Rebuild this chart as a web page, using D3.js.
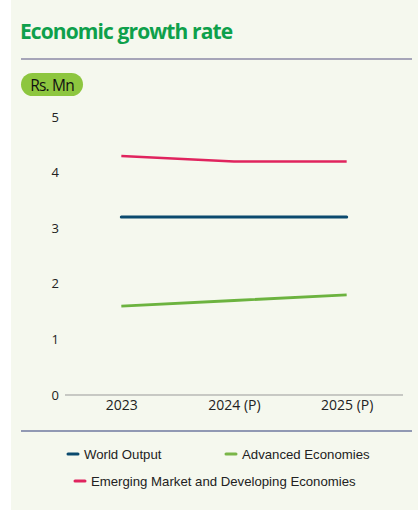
<!DOCTYPE html>
<html>
<head>
<meta charset="UTF-8">
<title>Economic growth rate</title>
<style>
  body { margin: 0; background: #fff; }
  .grid-line { stroke: #999; }
</style>
</head>
<body>
<div class="drawing"></div>
<script src="https://cdn.jsdelivr.net/npm/d3@7"></script>
<script>
var years = ["2023", "2024 (P)", "2025 (P)"];
var worldOutput = [3.2, 3.2, 3.2];
var advancedEconomies = [1.6, 1.7, 1.8];
var emergingEconomies = [4.3, 4.2, 4.2];
var yTicks = [0, 1, 2, 3, 4, 5];

var w = 418, h = 511;

var svg = d3.select("div.drawing").append("svg")
  .attr("width", w).attr("height", h);

// panel background
svg.append("rect").attr("x", 11).attr("y", 0)
  .attr("width", w - 11).attr("height", 510).attr("fill", "#f5f8ee");

svg.append("text").attr("x", 20).attr("y", 39)
  .attr("font-family", "Open Sans").attr("font-weight", "bold")
  .attr("font-size", 21).attr("letter-spacing", -0.9)
  .attr("fill", "#0ea04b").text("Economic growth rate");

svg.append("line").attr("x1", 21).attr("x2", 412).attr("y1", 59).attr("y2", 59)
  .attr("stroke", "#8b8aa6").attr("stroke-width", 1.5);

// unit pill
svg.append("rect").attr("x", 21).attr("y", 73).attr("width", 62).attr("height", 23)
  .attr("rx", 11.5).attr("fill", "#8dc63f");
svg.append("text").attr("x", 52).attr("y", 90.5).attr("text-anchor", "middle")
  .attr("font-family", "Open Sans").attr("font-size", 15.5).attr("letter-spacing", -0.8)
  .attr("fill", "#111").text("Rs. Mn");

var x = d3.scalePoint().domain(years).range([65, 403]).padding(0.5);
var y = d3.scaleLinear().domain([0, 5]).range([395, 117]);

// y labels
var yAxis = svg.append("g").attr("transform", "translate(65,0)")
  .call(d3.axisLeft(y).tickValues(yTicks).tickFormat(d3.format("d")).tickSize(0).tickPadding(6));
yAxis.select(".domain").remove();
yAxis.selectAll("text").attr("font-family", "Open Sans").attr("font-size", 13).attr("fill", "#222");

// zero line
svg.append("line").classed("grid-line", true)
  .attr("x1", 65).attr("x2", 403).attr("y1", y(0)).attr("y2", y(0));

var xAxis = svg.append("g").attr("transform", "translate(0," + y(0) + ")")
  .call(d3.axisBottom(x).tickSize(0).tickPadding(5));
xAxis.select(".domain").remove();
xAxis.selectAll("text").attr("font-family", "Open Sans").attr("font-size", 14).attr("fill", "#222");

var line = d3.line().x(function(d, i) { return x(years[i]); }).y(function(d) { return y(d); });

var series = [
  { name: "Emerging Market and Developing Economies", values: emergingEconomies, color: "#e0245e", width: 2.5 },
  { name: "World Output", values: worldOutput, color: "#0b4a6e", width: 3 },
  { name: "Advanced Economies", values: advancedEconomies, color: "#6cb33f", width: 2.8 }
];

series.forEach(function(s) {
  svg.append("path").datum(s.values)
    .attr("d", line).attr("fill", "none")
    .attr("stroke", s.color).attr("stroke-width", s.width)
    .attr("stroke-linecap", s.name == "World Output" ? "round" : "butt");
});

svg.append("line").attr("x1", 21).attr("x2", 412).attr("y1", 431).attr("y2", 431)
  .attr("stroke", "#2e3a78").attr("stroke-width", 1.2);

// legend
var legend = [
  { label: "World Output", color: "#0b4a6e", x: 67, y: 454 },
  { label: "Advanced Economies", color: "#7ab648", x: 225, y: 454 },
  { label: "Emerging Market and Developing Economies", color: "#e0245e", x: 74, y: 481 }
];
legend.forEach(function(l) {
  svg.append("line").attr("x1", l.x + 1).attr("x2", l.x + 11).attr("y1", l.y).attr("y2", l.y)
    .attr("stroke", l.color).attr("stroke-width", 3).attr("stroke-linecap", "round");
  svg.append("text").attr("x", l.x + 17).attr("y", l.y + 4.5)
    .attr("font-family", "Liberation Sans").attr("font-size", 13.2)
    .attr("fill", "#222").text(l.label);
});
</script>
</body>
</html>
